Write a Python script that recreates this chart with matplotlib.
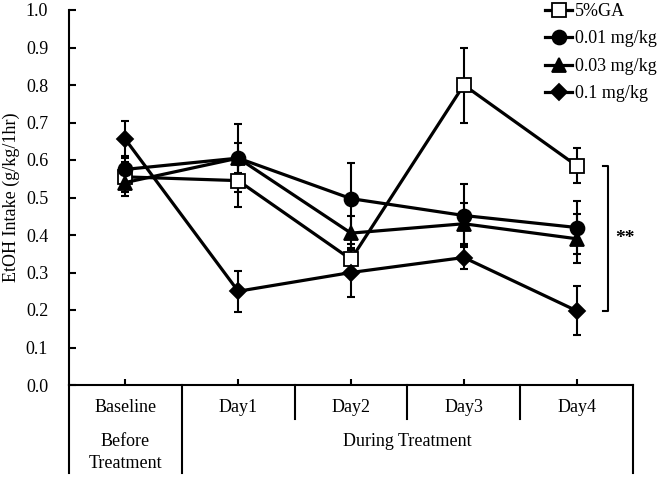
import matplotlib
matplotlib.use("Agg")
import matplotlib.pyplot as plt

plt.rcParams['font.family'] = ['Liberation Serif', 'DejaVu Serif']

categories = ["Baseline", "Day1", "Day2", "Day3", "Day4"]
ga = [0.555, 0.545, 0.335, 0.80, 0.585]
ga_err = [0.04, 0.07, 0.04, 0.10, 0.047]
c01 = [0.575, 0.605, 0.497, 0.452, 0.42]
c01_err = [0.035, 0.09, 0.095, 0.085, 0.07]
c03 = [0.54, 0.605, 0.405, 0.43, 0.39]
c03_err = [0.035, 0.04, 0.045, 0.055, 0.065]
c1 = [0.655, 0.25, 0.30, 0.34, 0.198]
c1_err = [0.05, 0.055, 0.065, 0.03, 0.065]
series_labels = ["5%GA", "0.01 mg/kg", "0.03 mg/kg", "0.1 mg/kg"]
yticks = [0.0, 0.1, 0.2, 0.3, 0.4, 0.5, 0.6, 0.7, 0.8, 0.9, 1.0]

W, H = 663, 478
fig = plt.figure(figsize=(W / 100, H / 100), dpi=100)
ax = fig.add_axes([69 / W, (H - 385) / H, (633 - 69) / W, (385 - 10) / H])

x = list(range(len(categories)))
styles = [
    dict(marker='s', mfc='white', ms=9.5),
    dict(marker='o', mfc='black', ms=10),
    dict(marker='^', mfc='black', ms=10),
    dict(marker='D', mfc='black', ms=8.5),
]
handles = []
for vals, err, st, lab in zip([ga, c01, c03, c1], [ga_err, c01_err, c03_err, c1_err], styles, series_labels):
    ax.errorbar(x, vals, yerr=err, fmt='none', ecolor='black', elinewidth=1.5,
                capsize=3, capthick=1.5, zorder=2)
    h, = ax.plot(x, vals, color='black', lw=2.3, marker=st['marker'], mfc=st['mfc'],
                 mec='black', mew=1.3, ms=st['ms'], zorder=3, label=lab)
    handles.append(h)

ax.set_xlim(-0.5, 4.5)
ax.set_ylim(0, 1.0)
ax.set_yticks(yticks)
ax.set_yticklabels([f"{v:.1f}" for v in yticks], fontsize=13)
ax.set_xticks(x)
ax.set_xticklabels([])
ax.tick_params(axis='y', direction='in', length=5, width=1.5, pad=15)
ax.tick_params(axis='x', direction='in', length=4, width=1.5)
for s in ['top', 'right']:
    ax.spines[s].set_visible(False)
for s in ['left', 'bottom']:
    ax.spines[s].set_linewidth(1.5)
ax.set_ylabel("EtOH Intake (g/kg/1hr)", fontsize=13)
ax.yaxis.set_label_coords(-0.087, 0.5)

# category table below axis
tr = ax.get_xaxis_transform()
ax.plot([4.5, 4.5], [0, -0.235], transform=tr, color='black', lw=1.5, clip_on=False)
ax.plot([-0.5, -0.5], [0, -0.235], transform=tr, color='black', lw=1.5, clip_on=False)
ax.plot([0.5, 0.5], [0, -0.235], transform=tr, color='black', lw=1.5, clip_on=False)
for b in [1.5, 2.5, 3.5]:
    ax.plot([b, b], [0, -0.09], transform=tr, color='black', lw=1.5, clip_on=False)
for xi, c in zip(x, categories):
    ax.text(xi, -0.061, c, transform=tr, ha='center', va='center', fontsize=13)
ax.text(0, -0.152, "Before", transform=tr, ha='center', va='center', fontsize=13)
ax.text(0, -0.208, "Treatment", transform=tr, ha='center', va='center', fontsize=13)
ax.text(2.5, -0.152, "During Treatment", transform=tr, ha='center', va='center', fontsize=13)

# significance bracket
bx = 4.275
btop, bbot = ga[-1], c1[-1]
ax.plot([bx - 0.045, bx, bx, bx - 0.045], [btop, btop, bbot, bbot], color='black', lw=1.5, clip_on=False)
ax.text(4.43, (btop + bbot) / 2, "**", ha='center', va='center', fontsize=14, fontweight='bold')

fig.legend(handles=handles, loc='upper left', bbox_to_anchor=(545 / W, 1 - 3 / H), frameon=False,
           fontsize=13, handlelength=1.5, handletextpad=0.15, labelspacing=0.58, borderpad=0,
           borderaxespad=0)

fig.savefig("out.png", dpi=100)
